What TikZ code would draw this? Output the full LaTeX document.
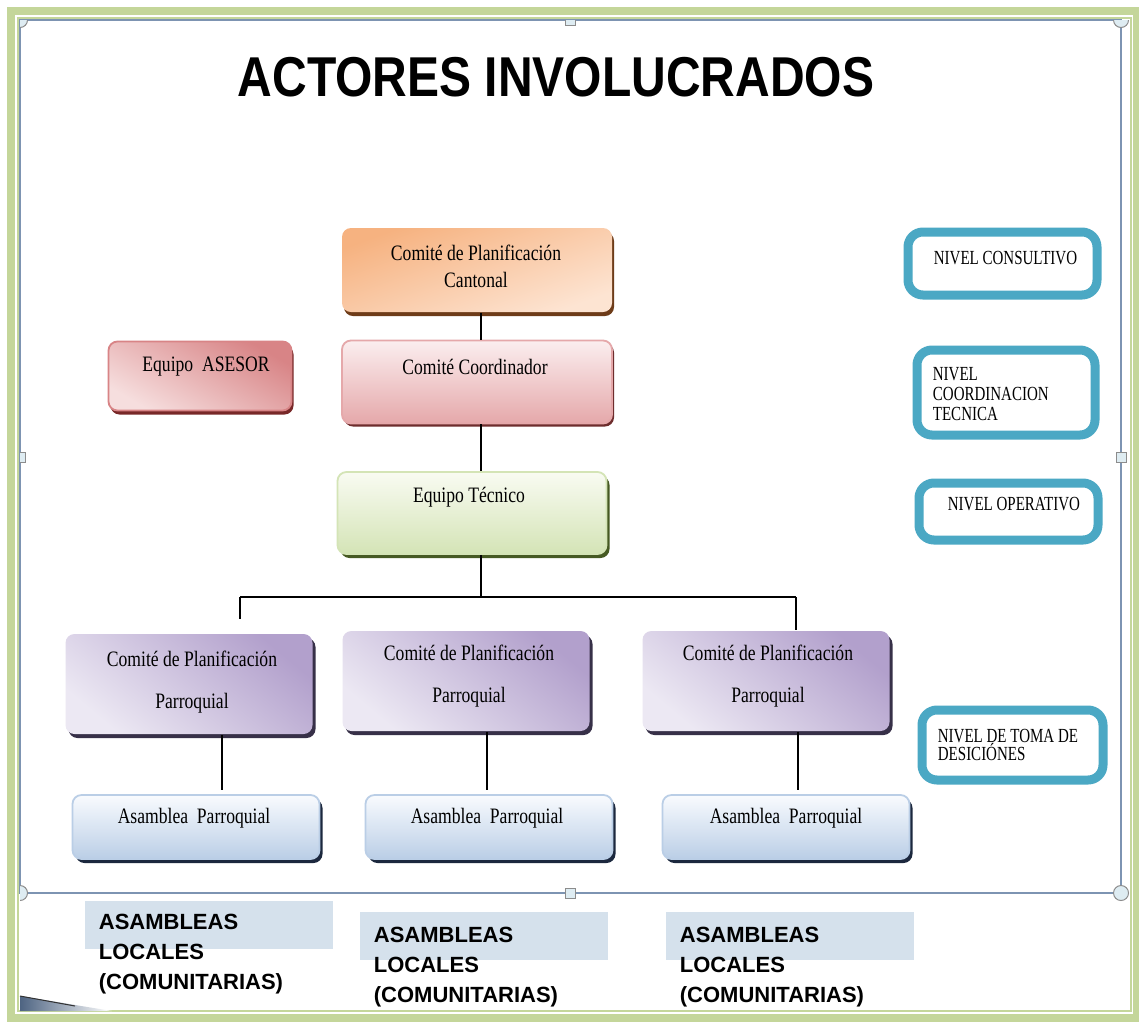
\documentclass[tikz,border=0pt]{standalone}
\usepackage{fontspec}
\setmainfont{Liberation Serif}
\newfontfamily\headfont{Liberation Sans}
\usepackage{tikz}
\usetikzlibrary{calc, positioning, shadows}
\definecolor{frameGreen}{RGB}{196,214,154}
\definecolor{selLine}{RGB}{125,148,178}
\definecolor{handleFill}{RGB}{222,236,242}
\definecolor{nivelBlue}{RGB}{75,168,196}
\definecolor{labelFill}{RGB}{213,225,236}
\definecolor{orangeA}{RGB}{246,178,128}
\definecolor{orangeB}{RGB}{253,228,210}
\definecolor{pinkA}{RGB}{251,238,239}
\definecolor{pinkB}{RGB}{229,168,170}
\definecolor{roseA}{RGB}{216,132,134}
\definecolor{roseB}{RGB}{246,222,222}
\definecolor{greenA}{RGB}{249,251,242}
\definecolor{greenB}{RGB}{212,228,182}
\definecolor{lilacA}{RGB}{178,160,204}
\definecolor{lilacB}{RGB}{236,232,243}
\definecolor{skyA}{RGB}{249,251,254}
\definecolor{skyB}{RGB}{186,206,230}
\definecolor{wedgeDark}{RGB}{78,100,130}
\newcommand{\sq}[1]{\scalebox{0.8}[1]{#1}}
\newcommand{\sqn}[1]{\scalebox{0.75}[1]{#1}}
\tikzstyle{box}=[rectangle, rounded corners=9pt, inner sep=0pt]
\tikzstyle{cantonal box}=[box, top color=orangeA, bottom color=orangeB, shading angle=20, drop shadow={shadow xshift=2pt, shadow yshift=-4pt, fill={rgb,255:red,110;green,60;blue,25}, opacity=1}]
\tikzstyle{coord box}=[box, draw=pinkB, top color=pinkA, bottom color=pinkB, drop shadow={shadow xshift=2pt, shadow yshift=-3pt, fill={rgb,255:red,110;green,45;blue,45}, opacity=1}]
\tikzstyle{asesor box}=[box, draw=roseA, top color=roseA, bottom color=roseB, shading angle=-30, drop shadow={shadow xshift=2pt, shadow yshift=-4pt, fill={rgb,255:red,120;green,40;blue,40}, opacity=1}]
\tikzstyle{tecnico box}=[box, draw=greenB, top color=greenA, bottom color=greenB, drop shadow={shadow xshift=3pt, shadow yshift=-4pt, fill={rgb,255:red,70;green,90;blue,35}, opacity=1}]
\tikzstyle{parroquia box}=[box, top color=lilacA, bottom color=lilacB, shading angle=-40, drop shadow={shadow xshift=3pt, shadow yshift=-4pt, fill={rgb,255:red,55;green,48;blue,72}, opacity=1}]
\tikzstyle{asamblea box}=[box, draw=skyB, top color=skyA, bottom color=skyB, drop shadow={shadow xshift=3pt, shadow yshift=-4pt, fill={rgb,255:red,28;green,40;blue,62}, opacity=1}]
\tikzstyle{nivel}=[rectangle, rounded corners=15pt, draw=nivelBlue, line width=9pt, fill=white, inner sep=0pt]
\tikzstyle{boxtext}=[font=\fontsize{22}{27}\selectfont, align=center, inner sep=0pt]
\tikzstyle{niveltext}=[font=\fontsize{20}{20}\selectfont, align=left, anchor=north west, inner sep=0pt]
\tikzstyle{localtext}=[font=\headfont\bfseries\fontsize{22}{30}\selectfont, align=left, anchor=north west, inner sep=0pt]
\tikzstyle{handle dot}=[circle, draw=black!45, fill=handleFill, minimum size=15pt, inner sep=0pt]
\tikzstyle{handle box}=[rectangle, draw=black!45, fill=handleFill, minimum size=10pt, inner sep=0pt]

\begin{document}
\begin{tikzpicture}[x=1pt, y=-1pt, line width=1.8pt]
		\useasboundingbox (0,0) rectangle (1139,1021);
		\fill[white] (0,0) rectangle (1139,1021);

		% Page frame
		\draw[frameGreen, line width=8pt] (11,11) rectangle (1137,1018);
		\draw[frameGreen, line width=2.5pt] (18,18) rectangle (1131,1011);
		\shade[left color=wedgeDark, right color=white] (20,996) -- (112,1011) -- (20,1011) -- cycle;
		\draw[black!80, line width=1pt] (20,996) -- (75,1006);
		\draw[selLine, line width=1.6pt] (20,20) rectangle (1121,893);

		% Title
		\node (title) at (556,77) {\headfont\bfseries\fontsize{48}{48}\selectfont\scalebox{1}[1.17]{ACTORES INVOLUCRADOS}};

		% Upper boxes
		\node[cantonal box, minimum width=270pt, minimum height=84pt] (cant) at (477,270) {};
		\node[coord box, minimum width=270pt, minimum height=83pt] (coord) at (477,382) {};
		\node[asesor box, minimum width=183pt, minimum height=69pt] (asesor) at (200,376) {};
		\node[tecnico box, minimum width=269pt, minimum height=82pt] (tec) at (472,513) {};

		\node[boxtext] (cant-t) at (476,266) {\sq{Comité de Planificación}\\ \sq{Cantonal}};
		\node[boxtext] (coord-t) at (475,367) {\sq{Comité Coordinador}};
		\node[boxtext] (asesor-t) at (206,367) {\sq{Equipo \ ASESOR}};
		\node[boxtext] (tec-t) at (469,497) {\sq{Equipo Técnico}};

		% Draw the parish committees and assemblies
		\foreach \name / \x / \y in {1/189/684, 2/466/681, 3/766/681}
		\node[parroquia box, minimum width=247pt, minimum height=100pt] (p-\name) at (\x,\y) {};

		\foreach \name / \x / \y in {1/192/682, 2/469/676, 3/768/676}
		\node[boxtext, font=\fontsize{22}{42}\selectfont] (pt-\name) at (\x,\y) {\sq{Comité de Planificación}\\ \sq{Parroquial}};

		\foreach \name / \x in {1/196, 2/489, 3/786}
		\node[asamblea box, minimum width=247pt, minimum height=64pt] (a-\name) at (\x,827) {};

		\foreach \name / \x in {1/194, 2/487, 3/786}
		\node[boxtext] (at-\name) at (\x,818) {\sq{Asamblea \ Parroquial}};

		% Connectors
		\coordinate (trunk) at (481,597);
		\coordinate (bus-1) at (240,597);
		\coordinate (bus-3) at (796,597);
		\draw (cant.south -| trunk) -- (coord.north -| trunk);
		\draw (coord.south -| trunk) -- (tec.north -| trunk);
		\draw (tec.south -| trunk) -- (trunk);
		\draw (bus-1) -- (bus-3);
		\draw (bus-1) -- ([yshift=14pt]p-1.north -| bus-1);
		\draw (bus-3) -- (p-3.north -| bus-3);

		\foreach \name / \x in {1/222, 2/487, 3/798}
		{
		\coordinate (drop-\name) at (\x,0);
		\draw (p-\name.south -| drop-\name) -- ([yshift=4pt]a-\name.north -| drop-\name);
		}

		% Levels
		\node[nivel, minimum width=189pt, minimum height=63pt] (n-1) at (1002.5,263.5) {};
		\node[nivel, minimum width=178pt, minimum height=85pt] (n-2) at (1006,392.5) {};
		\node[nivel, minimum width=179pt, minimum height=57pt] (n-3) at (1008.5,511.5) {};
		\node[nivel, minimum width=181pt, minimum height=70pt] (n-4) at (1012.5,745) {};

		\node[niveltext] (nt-1) at (933,250) {\sqn{NIVEL CONSULTIVO}};
		\node[niveltext] (nt-2) at (932,366) {\sqn{NIVEL}\\ \sqn{COORDINACION}\\ \sqn{TECNICA}};
		\node[niveltext] (nt-3) at (947,496) {\sqn{NIVEL OPERATIVO}};
		\node[niveltext, font=\fontsize{20}{17}\selectfont] (nt-4) at (937,728) {\sqn{NIVEL DE TOMA DE}\\ \sqn{DESICIÓNES}};

		% Local assemblies
		\foreach \name / \x / \y in {1/85/901, 2/360/912, 3/666/912}
		\fill[labelFill] (\x,\y) rectangle ++(248,48);

		\foreach \name / \x / \y in {1/98/913, 2/373/926, 3/679/926}
		\node[localtext] (loc-\name) at (\x,\y) {ASAMBLEAS\\ LOCALES\\ (COMUNITARIAS)};

		% Selection handles
		\begin{scope}
		\clip (20,20) rectangle (1139,1021);
		\foreach \name / \x / \y in {1/20/20, 2/1121/20, 3/20/893, 4/1121/893}
		\node[handle dot, line width=1pt] (hd-\name) at (\x,\y) {};
		\foreach \name / \x / \y in {1/570/20, 2/570/893, 3/20/457, 4/1121/457}
		\node[handle box, line width=1pt] (hb-\name) at (\x,\y) {};
		\end{scope}

	\end{tikzpicture}
\end{document}
